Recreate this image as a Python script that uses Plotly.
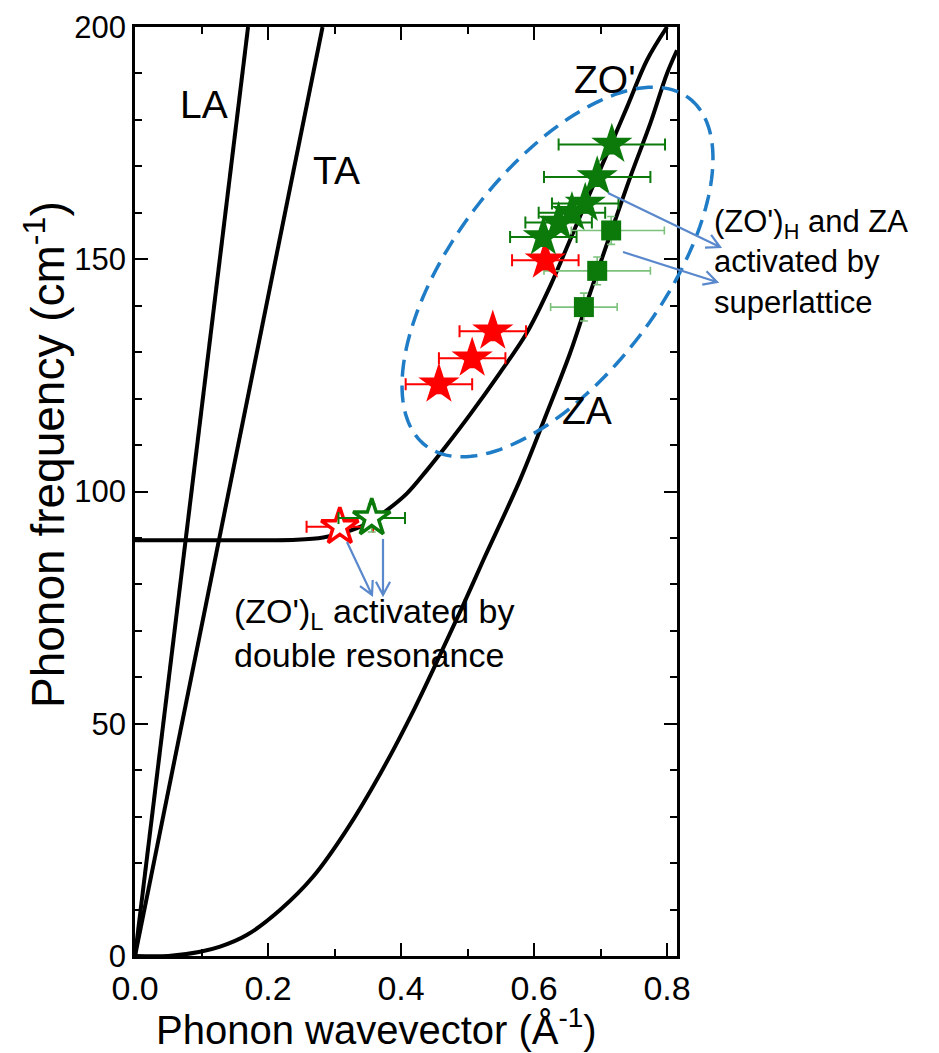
import plotly.graph_objects as go
import numpy as np

# ---------------- data ----------------
la_q = [0.0, 0.170]
la_w = [0.0, 200.0]

ta_q = [0.0, 0.282]
ta_w = [0.0, 200.0]

zo_q = [0.0, 0.10, 0.20, 0.243, 0.283, 0.318, 0.349, 0.379, 0.409, 0.439, 0.469,
        0.504, 0.549, 0.589, 0.624, 0.654, 0.684, 0.710, 0.740, 0.770, 0.800]
zo_w = [89.5, 89.5, 89.5, 89.6, 90.1, 91.3, 93.1, 96.0, 99.6, 104.6, 110.0,
        116.6, 125.6, 134.1, 144.1, 154.1, 164.2, 172.8, 182.8, 192.9, 200.0]

za_q = [0.0, 0.05, 0.098, 0.128, 0.168, 0.218, 0.268, 0.318, 0.369, 0.419, 0.469,
        0.499, 0.524, 0.579, 0.619, 0.654, 0.684, 0.715, 0.745, 0.775, 0.800, 0.815]
za_w = [0.0, 0.0, 0.9, 2.0, 4.5, 9.9, 17.1, 27.1, 39.3, 52.9, 68.0,
        77.3, 85.3, 102.5, 116.8, 129.7, 142.6, 155.5, 167.8, 179.3, 190.0, 195.0]

# red filled stars
red_q = [0.457, 0.507, 0.538, 0.617]
red_w = [123.1, 128.7, 134.5, 149.8]
red_qerr = [0.05, 0.05, 0.05, 0.05]
red_werr = [2.0, 2.0, 2.0, 2.0]

# red open star
redo_q = [0.308]
redo_w = [92.4]
redo_qerr = [0.05]
redo_werr = [2.0]

# green open star
grno_q = [0.356]
grno_w = [94.3]
grno_qerr = [0.05]
grno_werr = [3.0]

# green filled stars
grn_q = [0.614, 0.637, 0.657, 0.677, 0.695, 0.717]
grn_w = [154.8, 157.9, 160.0, 162.0, 167.7, 174.7]
grn_qerr = [0.05, 0.05, 0.05, 0.05, 0.08, 0.08]
grn_werr = [2.0, 2.0, 2.0, 2.0, 2.0, 2.0]

# green squares
sq_q = [0.675, 0.695, 0.716]
sq_w = [139.7, 147.5, 156.2]
sq_qerr_minus = [0.05, 0.08, 0.06]
sq_qerr_plus = [0.05, 0.08, 0.08]
sq_werr = [3.0, 3.0, 3.0]

x_ticks = [0.0, 0.2, 0.4, 0.6, 0.8]
x_ticklabels = ["0.0", "0.2", "0.4", "0.6", "0.8"]
y_ticks = [0, 50, 100, 150, 200]
y_ticklabels = ["0", "50", "100", "150", "200"]

# ---------------- layout geometry ----------------
PAGE_OFF = 8                      # default body margin of the html page
W, H = 939 - PAGE_OFF, 1053 - PAGE_OFF
# plot-area box in reference-picture pixels
L, R, T, B = 135, 677, 27, 956


def px2paper(px, py):
    return (px - L) / (R - L), (B - py) / (B - T)


RED = "#ff0000"
GREEN = "#0b7a0b"
LIGHTGREEN = "#7cc27c"
ARROW = "#5a88cc"
ELL = "#1f7cc6"
FONT = "Arial, Liberation Sans, sans-serif"

fig = go.Figure()

for q, w in [(la_q, la_w), (ta_q, ta_w)]:
    fig.add_trace(go.Scatter(x=q, y=w, mode="lines",
                             line=dict(color="black", width=4), hoverinfo="skip"))
for q, w in [(zo_q, zo_w), (za_q, za_w)]:
    fig.add_trace(go.Scatter(x=q, y=w, mode="lines",
                             line=dict(color="black", width=4, shape="spline", smoothing=1.0),
                             hoverinfo="skip"))

# data points
fig.add_trace(go.Scatter(
    x=sq_q, y=sq_w, mode="markers",
    marker=dict(symbol="square", size=20, color=GREEN),
    error_x=dict(type="data", symmetric=False, array=sq_qerr_plus, arrayminus=sq_qerr_minus,
                 color=LIGHTGREEN, thickness=1.6, width=4),
    error_y=dict(type="data", array=sq_werr, color=LIGHTGREEN, thickness=1.6, width=4)))

fig.add_trace(go.Scatter(
    x=red_q, y=red_w, mode="markers",
    marker=dict(symbol="star", size=31, color=RED),
    error_x=dict(type="data", array=red_qerr, color=RED, thickness=2, width=6),
    error_y=dict(type="data", array=red_werr, color=RED, thickness=1.5, width=3)))

fig.add_trace(go.Scatter(
    x=grn_q, y=grn_w, mode="markers",
    marker=dict(symbol="star", size=31, color=GREEN),
    error_x=dict(type="data", array=grn_qerr, color=GREEN, thickness=2, width=6),
    error_y=dict(type="data", array=grn_werr, color=GREEN, thickness=1.5, width=3)))

fig.add_trace(go.Scatter(
    x=redo_q, y=redo_w, mode="markers",
    marker=dict(symbol="star", size=28, color="white", line=dict(color=RED, width=3.5)),
    error_x=dict(type="data", array=redo_qerr, color=RED, thickness=2, width=6),
    error_y=dict(type="data", array=redo_werr, color=RED, thickness=1.5, width=3)))

fig.add_trace(go.Scatter(
    x=grno_q, y=grno_w, mode="markers",
    marker=dict(symbol="star", size=28, color="white", line=dict(color=GREEN, width=3.5)),
    error_x=dict(type="data", array=grno_qerr, color=GREEN, thickness=2, width=6),
    error_y=dict(type="data", array=grno_werr, color=LIGHTGREEN, thickness=1.5, width=4)))

# dashed ellipse (pixel geometry -> paper coordinates)
cx, cy, ea, eb, th = 557.5, 272.0, 218.0, 104.0, np.deg2rad(52.9)
t = np.linspace(0, 2 * np.pi, 181)
ux, uy = np.cos(th), -np.sin(th)
vx, vy = np.sin(th), np.cos(th)
ex = cx + ea * np.cos(t) * ux + eb * np.sin(t) * vx
ey = cy + ea * np.cos(t) * uy + eb * np.sin(t) * vy
pts = [px2paper(a, b) for a, b in zip(ex, ey)]
path = "M " + " L ".join(f"{a:.5f},{b:.5f}" for a, b in pts) + " Z"
fig.add_shape(type="path", path=path, xref="paper", yref="paper",
              line=dict(color=ELL, width=3.5, dash="17px,9px"), layer="above")

# arrows with open V heads (pixel geometry -> paper coordinates)
HEAD_LEN, HEAD_ANG = 15.0, np.deg2rad(28)
for (x0, y0, x1, y1) in [(608, 193, 720, 247), (623, 252, 717, 282),
                         (347, 542, 372, 595), (383, 539, 383, 595)]:
    ang = np.arctan2(y1 - y0, x1 - x0)
    a1 = (x1 - HEAD_LEN * np.cos(ang - HEAD_ANG), y1 - HEAD_LEN * np.sin(ang - HEAD_ANG))
    a2 = (x1 - HEAD_LEN * np.cos(ang + HEAD_ANG), y1 - HEAD_LEN * np.sin(ang + HEAD_ANG))
    p0, p1 = px2paper(x0, y0), px2paper(x1, y1)
    q1, q2 = px2paper(*a1), px2paper(*a2)
    apath = (f"M {p0[0]:.5f},{p0[1]:.5f} L {p1[0]:.5f},{p1[1]:.5f} "
             f"M {q1[0]:.5f},{q1[1]:.5f} L {p1[0]:.5f},{p1[1]:.5f} L {q2[0]:.5f},{q2[1]:.5f}")
    fig.add_shape(type="path", path=apath, xref="paper", yref="paper",
                  line=dict(color=ARROW, width=2.2), layer="above")

annotations = []
# curve labels
for txt, q, w in [("LA", 0.104, 183.4), ("TA", 0.303, 169.2), ("ZO'", 0.707, 188.6), ("ZA", 0.680, 117.5)]:
    annotations.append(dict(x=q, y=w, xref="x", yref="y", text=txt, showarrow=False,
                            font=dict(family=FONT, size=39, color="black")))

tx, ty = px2paper(712, 262)
annotations.append(dict(x=tx, y=ty, xref="paper", yref="paper", xanchor="left", yanchor="middle",
                        align="left", showarrow=False,
                        text="(ZO')<sub>H</sub> and ZA<br>activated by<br>superlattice",
                        font=dict(family=FONT, size=31, color="black")))
tx, ty = px2paper(232, 633)
annotations.append(dict(x=tx, y=ty, xref="paper", yref="paper", xanchor="left", yanchor="middle",
                        align="left", showarrow=False,
                        text="(ZO')<sub>L</sub> activated by<br>double resonance",
                        font=dict(family=FONT, size=34, color="black")))

# axis titles
tx, ty = px2paper(376, 1027)
annotations.append(dict(x=tx, y=ty, xref="paper", yref="paper", showarrow=False,
                        xanchor="center", yanchor="middle",
                        text="Phonon wavevector (Å<sup>-1</sup>)",
                        font=dict(family=FONT, size=40, color="black")))
tx, ty = px2paper(45, 455)
annotations.append(dict(x=tx, y=ty, xref="paper", yref="paper", showarrow=False,
                        xanchor="center", yanchor="middle", textangle=-90,
                        text="Phonon frequency (cm<sup>-1</sup>)",
                        font=dict(family=FONT, size=46, color="black")))

fig.update_layout(
    width=W, height=H,
    margin=dict(l=L - PAGE_OFF, r=W - (R - PAGE_OFF), t=T - PAGE_OFF, b=H - (B - PAGE_OFF),
                autoexpand=False),
    paper_bgcolor="white", plot_bgcolor="white",
    showlegend=False,
    annotations=annotations,
    font=dict(family=FONT, color="black"),
)
fig.update_xaxes(
    range=[0, 0.815], tickvals=x_ticks, ticktext=x_ticklabels,
    ticks="inside", ticklen=13, tickwidth=2, tickcolor="black",
    minor=dict(dtick=0.1, ticks="inside", ticklen=7, tickwidth=2, tickcolor="black", showgrid=False),
    showline=True, linecolor="black", linewidth=2.5, mirror="ticks",
    showgrid=False, zeroline=False, automargin=False,
    tickfont=dict(family=FONT, size=34),
)
fig.update_yaxes(
    range=[0, 200], tickvals=y_ticks, ticktext=y_ticklabels,
    ticks="inside", ticklen=13, tickwidth=2, tickcolor="black",
    minor=dict(dtick=10, ticks="inside", ticklen=7, tickwidth=2, tickcolor="black", showgrid=False),
    showline=True, linecolor="black", linewidth=2.5, mirror="ticks",
    showgrid=False, zeroline=False, automargin=False,
    tickfont=dict(family=FONT, size=31),
)

fig.write_html("out.html")
